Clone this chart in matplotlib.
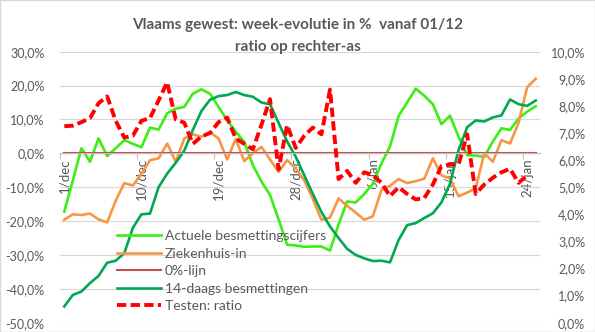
import matplotlib.pyplot as plt
import numpy as np
from matplotlib.patches import Rectangle

# categorieen: 1/dec t/m 25/jan
dagen = [f'{d}/dec' for d in range(1, 32)] + [f'{d}/jan' for d in range(1, 26)]

# week-evolutie in % (linker as)
actueel = [-17.2, -8, 1.5, -2.5, 4.4, -0.8, 1.5, 3.9, 2.8, 1.8,
           7.6, 7.0, 11.8, 13.2, 13.7, 17.6, 18.9, 17.6, 13.7, 9.8,
           6.4, 3.4, -3.5, -8.3, -12.3, -19.5, -27, -27.2, -27.6, -27.5,
           -27.5, -28.7, -21, -14.2, -14.5, -12, -9, -3, 2, 11,
           15, 19.1, 17, 14.5, 8.6, 11.1, 4.9, -0.5, -0.7, -1,
           3.5, 7.4, 6.9, 10.3, 12.3, 13.9]
ziekenhuis = [-19.6, -18, -18.2, -17.8, -19.5, -20.4, -14, -8.8, -9.5, -6,
              -2, -1.5, 2.9, -2.5, 4.4, 5.6, 4.9, 6.2, 4.4, -1.8,
              4.2, -2.3, 0, 1.9, -1.8, -5.5, -2, -4.5, -8, -13.5,
              -19.6, -19, -13.3, -15.5, -17.5, -19.6, -18.6, -10.8, -9.6, -7.6,
              -8.8, -8.2, -7.5, -1.5, -6.5, -7.4, -12.7, -11.6, -10.3, 0,
              -2.5, 3.9, 2.9, 9, 19.5, 22]
nul_lijn = [0] * len(dagen)
veertiendaags = [-45.2, -41.8, -40.8, -38.3, -36.2, -32.3, -31.7, -29.5, -22, -18,
                 -17.8, -10, -6, -2.8, 0.8, 6.9, 12.5, 15.8, 16.9, 17.2,
                 18.1, 17.2, 16.7, 15, 14.5, 9, 3.5, -1, -6.5, -12,
                 -17.3, -21.6, -25, -28.2, -30, -31, -31.8, -31.7, -32.2, -25.6,
                 -21.2, -20.6, -19.1, -17.7, -14.5, -9, 1, 7.7, 9.7, 9.4,
                 10.6, 11.2, 15.9, 14.5, 14, 15.6]

# testen: ratio in % (rechter as)
testen_ratio = [7.25, 7.27, 7.4, 7.55, 8.1, 8.35, 7.45, 6.83, 6.9, 7.45,
                7.55, 8.2, 8.87, 7.5, 7.38, 6.6, 6.87, 7.0, 7.4, 7.57,
                6.8, 6.6, 6.4, 7.3, 8.25, 5.66, 7.29, 6.45, 6.9, 7.2,
                6.95, 8.6, 5.3, 5.6, 5.16, 5.55, 5.45, 5.16, 4.67, 5.0,
                4.75, 4.55, 4.6, 5.1, 5.78, 5.84, 5.84, 6.95, 4.75, 5.1,
                5.35, 5.55, 5.68, 5.16, 5.43, np.nan]

grijs = '#595959'
plt.rcParams['font.family'] = ['Lato', 'DejaVu Sans']

fig = plt.figure(figsize=(5.95, 3.32), dpi=100)
ax = fig.add_axes([60 / 595, 1 - 322.7 / 332, 480 / 595, 271 / 332])
x = np.arange(len(dagen))

ax.plot(x, actueel, color='#3CEE14', lw=1.9, label='Actuele besmettingscijfers')
ax.plot(x, ziekenhuis, color='#F79646', lw=1.9, label='Ziekenhuis-in')
ax.plot(x, nul_lijn, color='#C0504D', lw=1.5, label='0%-lijn')
ax.plot(x, veertiendaags, color='#00A850', lw=1.9, label='14-daags besmettingen')

ax.set_xlim(-0.5, len(dagen) - 0.5)
ax.set_ylim(-50, 30)
ylinks = list(range(-50, 31, 10))
ax.set_yticks(ylinks, [f'{v:.1f}%'.replace('.', ',') for v in ylinks])
ax.tick_params(axis='y', length=0, pad=11, labelsize=9, labelcolor=grijs)
ax.grid(axis='y', color='#D9D9D9', lw=0.9)
ax.set_axisbelow(True)
for s in ['top', 'right', 'left']:
    ax.spines[s].set_visible(False)
ax.spines['bottom'].set_position(('data', 0))
ax.spines['bottom'].set_color('#BFBFBF')

stap = np.arange(0, len(dagen), 9)
ax.set_xticks(stap - 0.5, [''] * len(stap))
ax.set_xticks(stap, [dagen[i] for i in stap], minor=True, rotation=90)
ax.tick_params(axis='x', which='major', length=4, color='#BFBFBF')
ax.tick_params(axis='x', which='minor', length=0, pad=3.5, labelsize=9.5, labelcolor=grijs)

ax2 = ax.twinx()
ax2.plot(x, testen_ratio, color='#FF0000', lw=2.8, ls=(0, (2.4, 1.1)), label='Testen: ratio')
ax2.set_ylim(0, 10)
yrechts = list(range(0, 11))
ax2.set_yticks(yrechts, [f'{v:.1f}%'.replace('.', ',') for v in yrechts], ha='right')
ax2.tick_params(axis='y', length=0, pad=32.5, labelsize=9, labelcolor=grijs)
for s in ax2.spines.values():
    s.set_visible(False)

h1, l1 = ax.get_legend_handles_labels()
h2, l2 = ax2.get_legend_handles_labels()
ax2.legend(h1 + h2, l1 + l2, loc='upper left', bbox_to_anchor=(117 / 595, 1 - 230 / 332),
           bbox_transform=fig.transFigure, frameon=False, borderpad=0, borderaxespad=0,
           handlelength=3.2, handletextpad=0.25, labelspacing=0.4, fontsize=10,
           labelcolor=grijs)

fig.text(0.5, 1 - 25 / 332, 'Vlaams gewest: week-evolutie in %  vanaf 01/12',
         ha='center', va='center', fontsize=11, fontweight='bold', color=grijs)
fig.text(0.5, 1 - 47 / 332, 'ratio op rechter-as',
         ha='center', va='center', fontsize=11, fontweight='bold', color=grijs)
fig.patches.append(Rectangle((0, 0), 1, 1, transform=fig.transFigure, fill=False,
                             edgecolor='#D9D9D9', lw=1))

fig.savefig('out.png', dpi=100)
